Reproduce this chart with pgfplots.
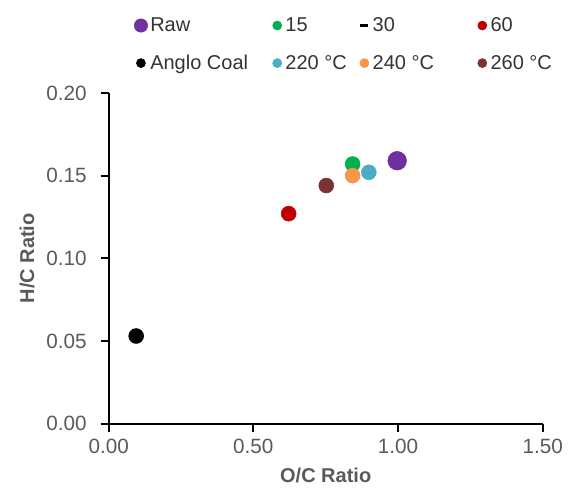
\documentclass[border=0pt]{standalone}
\usepackage{fontspec}
\setmainfont{Liberation Sans}
\usepackage{pgfplots}
\pgfplotsset{compat=1.18}
\definecolor{cRaw}{HTML}{7030A0}
\definecolor{cGreen}{HTML}{00B050}
\definecolor{cRed}{HTML}{C00000}
\definecolor{cBlue}{HTML}{4BACC6}
\definecolor{cOrange}{HTML}{F79646}
\definecolor{cBrown}{HTML}{7A3232}
\definecolor{txt}{HTML}{595959}
\begin{document}
\begin{tikzpicture}
\begin{axis}[
    name=ax,
    width=325.5pt, height=248pt, scale only axis,
    xmin=0, xmax=1.5, ymin=0, ymax=0.2,
    xtick={0,0.5,1,1.5}, ytick={0,0.05,0.1,0.15,0.2},
    axis lines*=left,
    axis line style={line width=1.4pt, -},
    tick style={line width=1.4pt, black},
    tick align=outside, major tick length=6pt,
    /pgf/number format/fixed, /pgf/number format/fixed zerofill,
    /pgf/number format/precision=2,
    /pgf/number format/assume math mode=true,
    ticklabel style={font=\fontsize{15.5}{17}\selectfont, text=txt},
    yticklabel style={xshift=-7pt},
    xticklabel style={yshift=-2pt},
    xlabel={\textbf{O/C Ratio}}, ylabel={\textbf{H/C Ratio}},
    label style={font=\fontsize{15}{17}\selectfont, text=txt},
    xlabel style={yshift=-4pt}, ylabel style={yshift=2pt},
    legend columns=4,
    legend image code/.code={\path (-4pt,0pt) (4pt,0pt); \draw[#1] plot coordinates {(0pt,0pt)};},
    legend style={at={(0,1)}, anchor=south west, xshift=19pt, yshift=14pt,
        draw=none, inner sep=0pt,
        font=\fontsize{15}{17}\selectfont, text=black!80,
        /tikz/every even column/.append style={column sep=0pt},
        row sep=12pt, cells={anchor=west}},
    legend cell align=left,
    clip=false,
]
\addplot[only marks, mark=*, color=cRaw, mark size=7pt,
    legend image post style={mark size=5pt}] coordinates {(0.997,0.159)};
\addlegendentry{\makebox[89pt][l]{Raw}}
\addplot[only marks, mark=*, color=cGreen, mark size=5.6pt,
    legend image post style={mark size=3.4pt}] coordinates {(0.843,0.157)};
\addlegendentry{\makebox[53pt][l]{15}}
\addlegendimage{only marks, mark=-, black, mark options={line width=2.2pt}, mark size=3pt}
\addlegendentry{\makebox[76pt][l]{30}}
\addplot[only marks, mark=*, color=cRed, mark size=5.6pt,
    legend image post style={mark size=3.4pt}] coordinates {(0.622,0.127)};
\addlegendentry{60}
\addplot[only marks, mark=*, color=black, mark size=5.6pt,
    legend image post style={mark size=3.4pt}] coordinates {(0.095,0.053)};
\addlegendentry{\makebox[89pt][l]{Anglo Coal}}
\addplot[only marks, mark=*, color=cBlue, mark size=5.6pt,
    legend image post style={mark size=3.4pt}] coordinates {(0.899,0.152)};
\addlegendentry{\makebox[53pt][l]{220 °C}}
\addplot[only marks, mark=*, color=cOrange, mark size=5.6pt,
    legend image post style={mark size=3.4pt}] coordinates {(0.843,0.150)};
\addlegendentry{\makebox[76pt][l]{240 °C}}
\addplot[only marks, mark=*, color=cBrown, mark size=5.6pt,
    legend image post style={mark size=3.4pt}] coordinates {(0.752,0.144)};
\addlegendentry{260 °C}
\end{axis}
\path (ax.south west) ++(-81.5pt,-47.2pt);
\path (ax.north east) ++(19.7pt,69.7pt);
\end{tikzpicture}
\end{document}
